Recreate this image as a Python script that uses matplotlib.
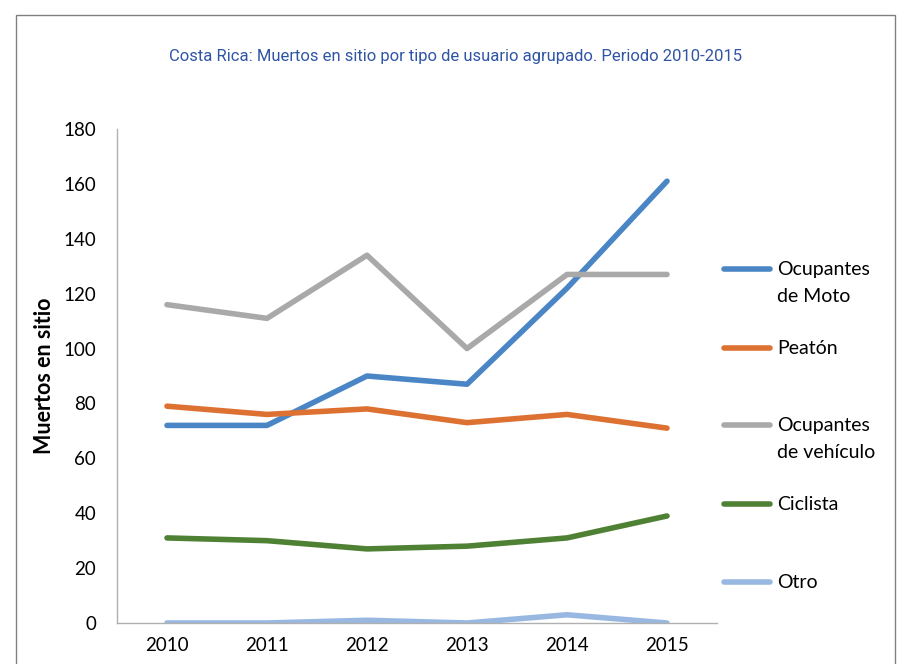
import matplotlib.pyplot as plt
from matplotlib.lines import Line2D
from matplotlib.patches import Rectangle

# data
years = ['2010', '2011', '2012', '2013', '2014', '2015']
moto = [72, 72, 90, 87, 122, 161]
peaton = [79, 76, 78, 73, 76, 71]
vehiculo = [116, 111, 134, 100, 127, 127]
ciclista = [31, 30, 27, 28, 31, 39]
otro = [0, 0, 1, 0, 3, 0]

labels = ['Ocupantes\nde Moto', 'Peatón', 'Ocupantes\nde vehículo', 'Ciclista', 'Otro']
colors = ['#4A86C5', '#DD7131', '#A9A9A9', '#4F8135', '#98B8E1']
series = [moto, peaton, vehiculo, ciclista, otro]

plt.rcParams['font.family'] = ['Lato', 'DejaVu Sans']

W, H = 909, 664
fig = plt.figure(figsize=(W / 100, H / 100), dpi=100)
ax = fig.add_axes([117 / W, 1 - 623 / H, 600 / W, (623 - 129) / H])

x = range(len(years))
for vals, c, lab in zip(series, colors, labels):
    ax.plot(x, vals, color=c, lw=4.0, solid_capstyle='round', solid_joinstyle='round', label=lab)

ax.set_xlim(-0.5, 5.5)
ax.set_ylim(0, 180)
ax.set_yticks(range(0, 181, 20))
ax.set_xticks(list(x))
ax.set_xticklabels(years)
ax.tick_params(length=0, labelsize=13.5, pad=10)
ax.tick_params(axis='y', pad=15)
for s in ['top', 'right']:
    ax.spines[s].set_visible(False)
for s in ['left', 'bottom']:
    ax.spines[s].set_color('#B0B0B0')
    ax.spines[s].set_linewidth(1)
ax.set_ylabel('Muertos en sitio', fontsize=15.5, fontweight='bold', labelpad=6)

# legend drawn by hand to follow the reference layout
leg_y = [269, 348, 425, 504, 582]
for ly, c, lab in zip(leg_y, colors, labels):
    fig.add_artist(Line2D([724 / W, 770 / W], [1 - ly / H] * 2, color=c, lw=4.0,
                          solid_capstyle='round', transform=fig.transFigure))
    fig.text(777 / W, 1 - (ly - 8) / H, lab, fontsize=14, va='top', ha='left',
             linespacing=1.7)

fig.text(456 / W, 1 - 57 / H, 'Costa Rica: Muertos en sitio por tipo de usuario agrupado. Periodo 2010-2015',
         fontsize=12, color='#2F55A4', ha='center', va='center',
         family=['Roboto', 'DejaVu Sans'])

# outer frame of the chart area
fig.add_artist(Rectangle((16 / W, -0.1), (895 - 16) / W, 1.1 - 15 / H, fill=False,
                         edgecolor='#808080', lw=1, transform=fig.transFigure))

fig.savefig('out.png', dpi=100)
